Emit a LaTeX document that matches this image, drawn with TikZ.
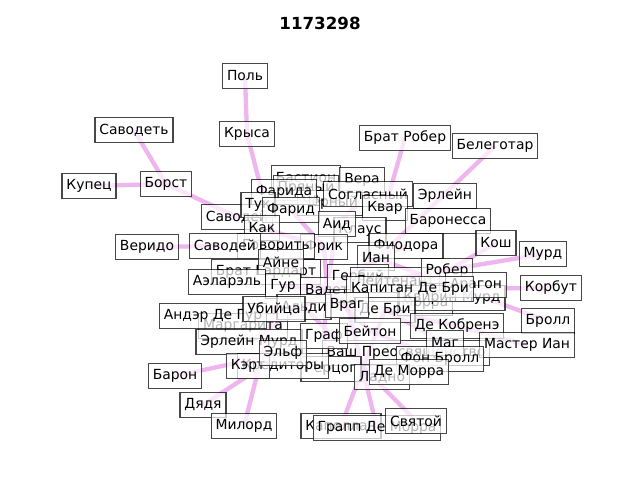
\documentclass[tikz,border=0pt]{standalone}
\usepackage{fontspec}
\setmainfont{DejaVu Sans}
\pgfdeclarelayer{bg}
\pgfsetlayers{bg,main}
\definecolor{nxviolet}{RGB}{224,120,224}
\tikzset{
 lbl/.style={draw=black, draw opacity=0.72, fill=white, fill opacity=0.7, text opacity=1,
   line width=0.9pt, inner xsep=3.2pt, inner ysep=0pt, minimum height=18pt,
   font=\fontsize{10}{12}\selectfont},
 lnk/.style={draw=nxviolet, line width=3.1pt, draw opacity=0.55},
 ttl/.style={font=\fontsize{12}{14}\selectfont\bfseries}
}
\begin{document}
\begin{tikzpicture}[x=0.72pt,y=-0.72pt]
\useasboundingbox (0,0) rectangle (640,480);
\node[ttl] (title) at (320,23) {1173298};
% periphery
\node[lbl] (polj) at (245,76) {Поль};
\node[lbl] (krysa) at (247,134) {Крыса};
\node[lbl] (savodet) at (134,130) {Саводеть};
\node[lbl] (kupec) at (89,186) {Купец};
\node[lbl] (borst) at (166,184) {Борст};
\node[lbl] (bratrob) at (405,138) {Брат Робер};
\node[lbl] (beleg) at (495,146) {Белеготар};
\node[lbl] (verido) at (147,247) {Веридо};
% core
\node[lbl] (bastion) at (306,178) {Бастион};
\node[lbl] (pryany) at (306,188) {Пряный};
\node[lbl] (cherny) at (330,203) {Чёрный};
\node[lbl] (vera) at (362,180) {Вера};
\node[lbl] (farida) at (284,192) {Фарида};
\node[lbl] (soglas) at (368,194) {Согласный};
\node[lbl] (erlein) at (445,196) {Эрлейн};
\node[lbl] (savod1) at (237,217) {Саводей};
\node[lbl] (tuk) at (258,205) {Тук};
\node[lbl] (farid) at (291,210) {Фарид};
\node[lbl] (kvar) at (385,208) {Квар};
\node[lbl] (baronessa) at (448,221) {Баронесса};
\node[lbl] (klaus) at (360,230) {Клаус};
\node[lbl] (aid) at (337,224) {Аид};
\node[lbl] (kak) at (262,228) {Как};
\node[lbl] (frik) at (324,247) {Фрик};
\node[lbl] (govor) at (276,246) {Говорить};
\node[lbl] (savod2) at (225,246) {Саводей};
\node[lbl] (fiodora) at (406,246) {Фиодора};
\node[lbl] (kosh) at (496,243) {Кош};
\node[lbl] (murd) at (543,254) {Мурд};
\node[lbl] (bratg) at (266,272) {Брат Гардарт};
\node[lbl] (valet) at (327,290) {Валет};
\node[lbl] (ian) at (376,258) {Иан};
\node[lbl] (aine) at (281,262) {Айне};
\node[lbl] (aelarel) at (227,282) {Аэларэль};
\node[lbl] (gur) at (283,286) {Гур};
\node[lbl] (gerbiy) at (358,277) {Гербий};
\node[lbl] (leit) at (395,280) {Лейтенант};
\node[lbl] (rober) at (447,271) {Робер};
\node[lbl] (morra) at (425,303) {Морра};
\node[lbl] (kvirin) at (452,298) {Квирин Мурд};
\node[lbl] (aragon) at (476,285) {Арагон};
\node[lbl] (kapitan) at (410,289) {Капитан Де Бри};
\node[lbl] (korbut) at (551,288) {Корбут};
\node[lbl] (margarita) at (243,326) {Маргарита};
\node[lbl] (ander) at (213,316) {Андэр Де Гур};
\node[lbl] (aldi) at (304,307) {Альди};
\node[lbl] (ubiyca) at (274,309) {Убийца};
\node[lbl] (debri) at (385,310) {Де Бри};
\node[lbl] (vrag) at (347,305) {Враг};
\node[lbl] (erlmurd) at (249,342) {Эрлейн Мурд};
\node[lbl] (vash) at (406,353) {Ваш Преосвященство};
\node[lbl] (graf) at (324,336) {Граф};
\node[lbl] (beiton) at (370,331) {Бейтон};
\node[lbl] (dekob) at (457,326) {Де Кобренэ};
\node[lbl] (broll) at (548,321) {Бролл};
\node[lbl] (mag) at (445,343) {Маг};
\node[lbl] (master) at (527,345) {Мастер Иан};
\node[lbl] (gercog) at (331,369) {Герцог};
\node[lbl] (kredit) at (283,366) {Кредиторы};
\node[lbl] (kert) at (248,366) {Кэрт};
\node[lbl] (elf) at (283,353) {Эльф};
\node[lbl] (fonbroll) at (440,359) {Фон Бролл};
\node[lbl] (ladno) at (382,377) {Ладно};
\node[lbl] (demorra) at (409,372) {Де Морра};
\node[lbl] (baron) at (175,376) {Барон};
\node[lbl] (dyadya) at (203,405) {Дядя};
\node[lbl] (milord) at (244,426) {Милорд};
\node[lbl] (kapellan) at (341,426) {Капеллан};
\node[lbl] (grapp) at (377,428) {Грапп Де Морра};
\node[lbl] (svyatoy) at (416,421) {Святой};
\begin{pgfonlayer}{bg}
\foreach \a/\b in {polj/krysa, krysa/govor, savodet/borst, kupec/borst, borst/savod1,
  bratrob/kvar, beleg/gerbiy, verido/savod2, murd/valet, korbut/kapitan, broll/ian,
  baron/elf, dyadya/elf, milord/ubiyca, grapp/vrag, kapellan/debri, svyatoy/aldi,
  valet/frik, valet/aine, valet/gur, valet/vrag, valet/aldi, valet/graf, valet/beiton,
  valet/ian, valet/aid, frik/kak, frik/farid, aldi/ubiyca, aldi/erlmurd, graf/gercog,
  beiton/fonbroll, debri/dekob, debri/mag, kapitan/kvirin, ian/fiodora, aid/soglas,
  farida/tuk, kosh/rober, master/dekob}
  \draw[lnk] (\a.center) -- (\b.center);
\end{pgfonlayer}
\end{tikzpicture}
\end{document}
